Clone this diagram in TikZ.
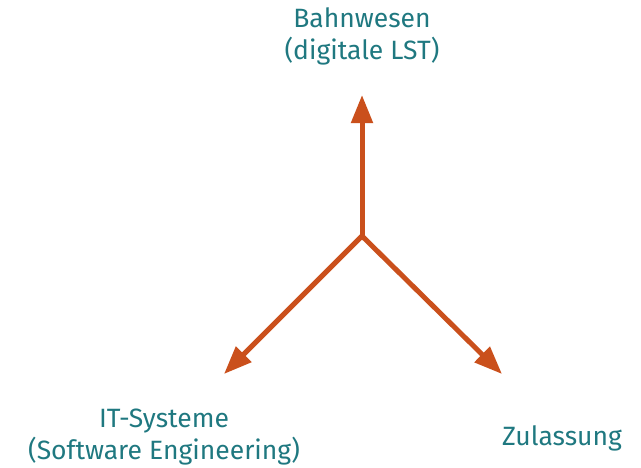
\documentclass[tikz,border=0pt]{standalone}
\usepackage{fontspec}
\setmainfont{Fira Sans}
\usetikzlibrary{arrows.meta}
\definecolor{labelteal}{RGB}{31,120,128}
\definecolor{arroworange}{RGB}{202,80,28}
\begin{document}
\begin{tikzpicture}[x=1pt,y=-1pt,
  lbl/.style={text=labelteal, font=\fontsize{26.5}{32}\selectfont, align=center, inner sep=0pt},
  spoke/.style={draw=arroworange, line width=5pt,
    -{Triangle[length=28pt,width=21pt]}}]
  \useasboundingbox (0,0) rectangle (641,467);
  % hub and arrow tips
  \coordinate (hub) at (362,236);
  \coordinate (tipup) at (362,95);
  \coordinate (tipleft) at (224,374);
  \coordinate (tipright) at (502,374);
  % labels
  \node[lbl] (bahn) at (362,36) {Bahnwesen\\(digitale LST)};
  \node[lbl] (it) at (164,437) {IT-Systeme\\(Software Engineering)};
  \node[lbl] (zul) at (562,438) {Zulassung};
  % spokes
  \draw[spoke] (hub) -- (tipup);
  \draw[spoke] (hub) -- (tipleft);
  \draw[spoke] (hub) -- (tipright);
\end{tikzpicture}
\end{document}
